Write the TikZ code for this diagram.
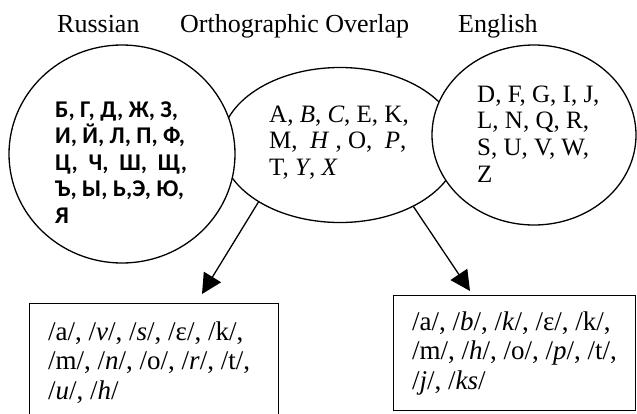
\documentclass[tikz,border=0pt]{standalone}
\usepackage{fontspec}
\setmainfont{Liberation Serif}
\newfontfamily\rufont{Carlito}
\usetikzlibrary{shapes.geometric,arrows.meta}
\newcommand\firstlinestrut{\rule{0pt}{20pt}}
\begin{document}
\begin{tikzpicture}[x=1pt,y=-1pt,
  shapeline/.style={draw=black,line width=1.3pt,fill=white},
  oval/.style={shapeline, ellipse, inner sep=0pt},
  boxshape/.style={shapeline, rectangle, inner sep=0pt, anchor=north west},
  lbl/.style={inner sep=0pt, anchor=north west, align=left},
  title/.style={inner sep=0pt, anchor=base west, font=\fontsize{26}{30}\selectfont},
  latin/.style={font=\fontsize{25}{26.7}\selectfont},
  cyr/.style={font=\rufont\bfseries\fontsize{24}{26.5}\selectfont},
  phon/.style={font=\fontsize{27}{29.5}\selectfont},
  arr/.style={line width=1.3pt,-{Triangle[length=20pt,width=20pt]}},
]
\useasboundingbox (0,0) rectangle (637,413);
\clip (0,0) rectangle (637,413);
\node[oval, minimum width=238pt, minimum height=155pt] (mid) at (340,145) {};
\node[oval, minimum width=226pt, minimum height=218pt] (ru) at (122,154) {};
\node[oval, minimum width=204pt, minimum height=180pt] (en) at (534,135) {};

\node[title] (t1) at (57,32) {Russian};
\node[title] (t2) at (180,32) {Orthographic Overlap};
\node[title] (t3) at (458,32) {English};

\node[lbl, cyr] (rutext) at (55,97) {\firstlinestrut Б, Г, Д, Ж, З,\\И, Й, Л, П, Ф,\\Ц,\ \ Ч,\ \ Ш,\ \ Щ,\\Ъ, Ы, Ь,Э, Ю,\\Я};
\node[lbl, latin] (midtext) at (269,102) {\firstlinestrut A, \textit{B}, \textit{C}, E, K,\\M,\ \ \textit{H}\ , O,\ \ \textit{P},\\T, \textit{Y}, \textit{X}};
\node[lbl, latin] (entext) at (477,82) {\firstlinestrut D, F, G, I, J,\\L,\ N,\ Q,\ R,\\S, U, V, W,\\Z};

\node[boxshape, minimum width=249pt, minimum height=135pt] (lbox) at (29,303) {};
\node[boxshape, minimum width=242pt, minimum height=115pt] (rbox) at (393,295) {};

\node[lbl, phon] (ltext) at (48,320) {\firstlinestrut /a/, /\textit{v}/, /\textit{s}/, /ε/, /k/,\\/m/, /\textit{n}/, /o/, /\textit{r}/, /t/,\\/\textit{u}/, /\textit{h}/};
\node[lbl, phon] (rtext) at (412,310) {\firstlinestrut /a/, /\textit{b}/, /\textit{k}/, /ε/, /k/,\\/m/, /\textit{h}/, /o/, /\textit{p}/, /t/,\\/\textit{j}/, /\textit{ks}/};

\coordinate (ltip) at (202,294);
\coordinate (rtip) at (470,291);
\draw[arr] (mid.215) -- (ltip);
\draw[arr] (mid.320) -- (rtip);
\end{tikzpicture}
\end{document}
